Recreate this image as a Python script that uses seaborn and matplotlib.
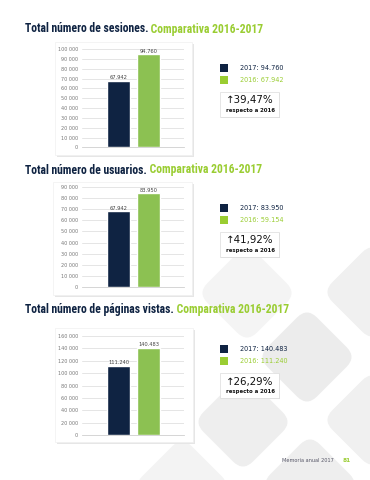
import matplotlib
matplotlib.use("Agg")
import matplotlib.pyplot as plt
import matplotlib.transforms as mtransforms
from matplotlib.patches import FancyBboxPatch, Rectangle
from matplotlib import font_manager
import seaborn as sns
import pandas as pd

# ---------------- data ----------------
years = ["2016", "2017"]
sesiones = [67942, 94760]
usuarios_barras = [67942, 83950]      # heights as drawn in the reference
usuarios_leyenda = [59154, 83950]     # values shown in the legend
paginas = [111240, 140483]
titulos = ["Total número de sesiones.", "Total número de usuarios.",
           "Total número de páginas vistas."]
subtitulo = "Comparativa 2016-2017"
porcentajes = ["39,47%", "41,92%", "26,29%"]
ticks_ses = list(range(0, 100001, 10000))
ticks_usu = list(range(0, 90001, 10000))
ticks_pag = list(range(0, 160001, 20000))

NAVY = "#0f2342"
GREEN_BAR = "#8cc152"
LIME = "#9acd32"
W, H = 370, 480

sns.set_theme(style="white")
plt.rcParams["font.family"] = ["DejaVu Sans"]

available = {f.name for f in font_manager.fontManager.ttflist}
title_font = "DejaVu Sans"
for cand in ["Liberation Sans Narrow", "Roboto Condensed", "DejaVu Sans Condensed",
             "Open Sans Condensed", "Roboto", "Liberation Sans"]:
    if cand in available:
        title_font = cand
        break

fig = plt.figure(figsize=(W / 100, H / 100), dpi=100)
bg = fig.add_axes([0, 0, 1, 1], zorder=0)
bg.set_xlim(0, W)
bg.set_ylim(H, 0)
bg.axis("off")

# background diamonds
diamonds = [(247, 293, "#f4f4f4"), (372, 292, "#f0f0f0"), (307, 357, "#ececec"),
            (243, 422, "#eeeeee"), (372, 420, "#f0f0f0"), (310, 484, "#eeeeee"),
            (182, 486, "#f3f3f3")]
side, rad = 70, 14
for cx, cy, c in diamonds:
    p = FancyBboxPatch((cx - side / 2, cy - side / 2), side, side,
                       boxstyle=f"round,pad=0,rounding_size={rad}",
                       fc=c, ec="none", zorder=1)
    p.set_transform(mtransforms.Affine2D().rotate_deg_around(cx, cy, 45) + bg.transData)
    bg.add_patch(p)


def px_rect(x0, y0, x1, y1):
    return [x0 / W, 1 - y1 / H, (x1 - x0) / W, (y1 - y0) / H]


def fmt_space(v):
    return f"{v:,}".replace(",", " ")


def fmt_dot(v):
    return f"{v:,}".replace(",", ".")


sections = [
    dict(title=titulos[0], ty=29, tw=240, box=(55, 42, 192, 155), ax=(82, 49.3, 184, 147.3),
         vals=sesiones, leg=sesiones, ticks=ticks_ses, ly=64, by=92, pct=porcentajes[0]),
    dict(title=titulos[1], ty=170, tw=238, box=(53, 182, 192, 295), ax=(82, 186.7, 184, 287.3),
         vals=usuarios_barras, leg=usuarios_leyenda, ticks=ticks_usu, ly=204, by=232,
         pct=porcentajes[1]),
    dict(title=titulos[2], ty=310, tw=266, box=(55, 328, 193, 442), ax=(82, 336, 184, 435),
         vals=paginas, leg=paginas, ticks=ticks_pag, ly=345, by=373, pct=porcentajes[2]),
]

renderer = fig.canvas.get_renderer()

for s in sections:
    # title (two colours), scaled so that its width matches the reference
    fs = 10.5
    t1 = bg.text(25, s["ty"], s["title"], color=NAVY, fontsize=fs, fontweight="bold",
                 family=title_font, va="center", ha="left", zorder=5)
    t2 = bg.annotate(" " + subtitulo, xy=(1, 0.5), xycoords=t1, va="center", ha="left",
                     color=LIME, fontsize=fs, fontweight="bold", family=title_font, zorder=5)
    wtot = t1.get_window_extent(renderer).width + t2.get_window_extent(renderer).width
    fs_new = fs * s["tw"] / wtot
    t1.set_fontsize(fs_new)
    t2.set_fontsize(fs_new)

    # chart card with soft shadow
    x0, y0, x1, y1 = s["box"]
    bg.add_patch(Rectangle((x0 + 1.5, y0 + 1.5), x1 - x0, y1 - y0, fc="#e6e6e6",
                           ec="none", zorder=2))
    bg.add_patch(Rectangle((x0, y0), x1 - x0, y1 - y0, fc="white", ec="#f0f0f0",
                           lw=0.5, zorder=3))

    # bar chart
    ax = fig.add_axes(px_rect(*s["ax"]), zorder=2)
    ax.patch.set_alpha(0)
    df = pd.DataFrame({"year": years, "value": s["vals"]})
    sns.barplot(data=df, x="year", y="value", hue="year",
                palette=[NAVY, GREEN_BAR], width=0.77, legend=False, ax=ax,
                saturation=1, zorder=3)
    ax.set_xlim(-1.22, 2.18)
    ax.set_ylim(0, s["ticks"][-1])
    ax.set_yticks(s["ticks"])
    ax.set_yticklabels([fmt_space(v) for v in s["ticks"]], fontsize=3.5, color="#777777")
    ax.tick_params(axis="y", length=0, pad=3)
    ax.set_xticks([])
    ax.set_xlabel("")
    ax.set_ylabel("")
    for sp in ["top", "right", "left"]:
        ax.spines[sp].set_visible(False)
    ax.spines["bottom"].set_color("#cfcfcf")
    ax.spines["bottom"].set_linewidth(0.6)
    ax.grid(axis="y", color="#e0e0e0", lw=0.6, zorder=0)
    ax.set_axisbelow(True)
    for cont in ax.containers:
        ax.bar_label(cont, labels=[fmt_dot(int(v)) for v in cont.datavalues],
                     fontsize=3.7, color="#444444", padding=0.5)

    # legend
    ly = s["ly"]
    bg.add_patch(Rectangle((220, ly), 8, 8, fc=NAVY, ec="none", zorder=5))
    bg.add_patch(Rectangle((220, ly + 12), 8, 8, fc=LIME, ec="none", zorder=5))
    bg.text(240, ly + 4, f"2017: {fmt_dot(s['leg'][1])}", color=NAVY, fontsize=4.7,
            va="center", ha="left", zorder=5)
    bg.text(240, ly + 16, f"2016: {fmt_dot(s['leg'][0])}", color=LIME, fontsize=4.7,
            va="center", ha="left", zorder=5)

    # percentage box
    by = s["by"]
    bg.add_patch(Rectangle((221, by + 1), 59, 25, fc="#d6d6d6", ec="none", zorder=5))
    bg.add_patch(Rectangle((220, by), 59, 25, fc="white", ec="#dcdcdc", lw=0.5, zorder=6))
    bg.text(250, by + 8.5, "\u2191" + s["pct"], color="#111111", fontsize=7.4,
            va="center", ha="center", zorder=7)
    bg.text(250, by + 18.5, "respecto a 2016", color="#111111", fontsize=3.9,
            fontweight="bold", va="center", ha="center", zorder=7)

# footer
bg.text(334, 461, "Memoria anual 2017", color="#555566", fontsize=3.6,
        va="center", ha="right", zorder=5)
bg.text(343, 461, "81", color=LIME, fontsize=4.2, fontweight="bold",
        va="center", ha="left", zorder=5)

fig.savefig("out.png", dpi=100, facecolor="white")
